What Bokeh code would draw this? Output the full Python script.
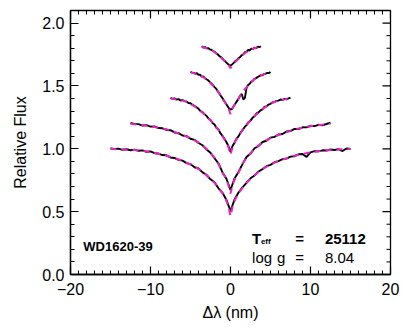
from bokeh.plotting import figure
from bokeh.models import Range1d, FixedTicker, Label
from bokeh.embed import file_html
from bokeh.resources import INLINE

# ---- Balmer line profiles, each shifted by a vertical offset ----
# observed spectra (black)
obs1_x = [-15 + 0.5 * i for i in range(61)]
obs1_y = [1.003, 0.998, 1.001, 0.992, 0.996, 0.988, 0.993, 0.984, 0.987, 0.976,
          0.979, 0.965, 0.962, 0.950, 0.948, 0.931, 0.927, 0.912, 0.906, 0.886,
          0.878, 0.853, 0.843, 0.812, 0.793, 0.757, 0.733, 0.686, 0.650, 0.592,
          0.505,
          0.596, 0.652, 0.693, 0.728, 0.765, 0.787, 0.819, 0.838, 0.862, 0.872,
          0.893, 0.902, 0.918, 0.922, 0.938, 0.941, 0.956, 0.958, 0.935, 0.972,
          0.981, 0.979, 0.988, 0.986, 0.994, 0.990, 0.997, 0.982, 1.002, 0.998]

obs2_x = [-12.5 + 0.5 * i for i in range(51)]
obs2_y = [1.205, 1.198, 1.196, 1.185, 1.188, 1.176, 1.178, 1.165, 1.163, 1.150,
          1.148, 1.130, 1.125, 1.106, 1.101, 1.080, 1.071, 1.046, 1.028, 0.995,
          0.968, 0.925, 0.884, 0.812, 0.760,
          0.672,
          0.763, 0.815, 0.878, 0.934, 0.962, 1.004, 1.021, 1.054, 1.064, 1.089,
          1.095, 1.114, 1.118, 1.137, 1.141, 1.158, 1.157, 1.171, 1.170, 1.183,
          1.180, 1.191, 1.187, 1.197, 1.208]

obs3_x = [-7.5 + 0.25 * i for i in range(61)]
obs3_y = [1.405, 1.398, 1.401, 1.392, 1.395, 1.384, 1.388, 1.379, 1.375, 1.364,
          1.362, 1.349, 1.341, 1.330, 1.318, 1.300, 1.292, 1.276, 1.262, 1.241,
          1.229, 1.205, 1.193, 1.166, 1.153, 1.122, 1.103, 1.077, 1.052, 1.020,
          0.975,
          1.022, 1.048, 1.081, 1.099, 1.128, 1.148, 1.172, 1.188, 1.212, 1.224,
          1.246, 1.258, 1.281, 1.289, 1.305, 1.313, 1.334, 1.337, 1.352, 1.358,
          1.369, 1.372, 1.381, 1.383, 1.392, 1.389, 1.397, 1.393, 1.401, 1.406]

obs4_x = [round(-5 + 0.2 * i, 2) for i in range(51)]
obs4_y = [1.612, 1.606, 1.603, 1.598, 1.601, 1.588, 1.590, 1.574, 1.576, 1.561,
          1.553, 1.545, 1.532, 1.520, 1.506, 1.491, 1.478, 1.459, 1.442, 1.420,
          1.403, 1.380, 1.362, 1.342, 1.322,
          1.312,
          1.318, 1.338, 1.358, 1.379, 1.398, 1.421, 1.436, 1.392, 1.405, 1.482,
          1.508, 1.517, 1.534, 1.541, 1.557, 1.562, 1.571, 1.578, 1.586, 1.584,
          1.595, 1.598, 1.604, 1.602, 1.611]

obs5_x = [round(-3.6 + 0.2 * i, 2) for i in range(38)]
obs5_y = [1.815, 1.806, 1.809, 1.799, 1.801, 1.791, 1.788, 1.779, 1.772, 1.760,
          1.752, 1.738, 1.729, 1.716, 1.703, 1.692, 1.679, 1.668,
          1.662,
          1.671, 1.683, 1.698, 1.706, 1.721, 1.731, 1.744, 1.752, 1.768, 1.771,
          1.786, 1.782, 1.797, 1.793, 1.805, 1.799, 1.812, 1.808, 1.816]

# model fits (magenta, dashed)
mod1_x = [-15, -14, -12, -10, -8, -6, -5, -4, -3, -2, -1.5, -1, -0.6, -0.3, 0,
          0.3, 0.6, 1, 1.5, 2, 3, 4, 5, 6, 8, 10, 12, 14, 15]
mod1_y = [1.00, 0.995, 0.99, 0.975, 0.945, 0.905, 0.875, 0.84, 0.79, 0.73, 0.69,
          0.645, 0.60, 0.55, 0.465, 0.55, 0.60, 0.645, 0.69, 0.73, 0.79, 0.84,
          0.875, 0.905, 0.945, 0.972, 0.988, 0.997, 1.00]

mod2_x = [-12.5, -12, -10, -8, -6, -5, -4, -3, -2, -1.5, -1, -0.6, -0.3, 0,
          0.3, 0.6, 1, 1.5, 2, 3, 4, 5, 6, 8, 10, 12, 12.5]
mod2_y = [1.20, 1.195, 1.18, 1.155, 1.11, 1.085, 1.05, 1.00, 0.93, 0.88, 0.81,
          0.77, 0.72, 0.645, 0.72, 0.77, 0.81, 0.88, 0.93, 1.00, 1.05, 1.085,
          1.11, 1.155, 1.18, 1.195, 1.20]

mod3_x = [-7.5, -7, -6, -5, -4, -3, -2, -1.5, -1, -0.6, -0.3, 0,
          0.3, 0.6, 1, 1.5, 2, 3, 4, 5, 6, 7, 7.5]
mod3_y = [1.40, 1.395, 1.385, 1.36, 1.315, 1.26, 1.19, 1.15, 1.10, 1.06, 1.02,
          0.955, 1.02, 1.06, 1.10, 1.15, 1.19, 1.26, 1.315, 1.36, 1.385, 1.395, 1.40]

mod4_x = [-5, -4.5, -4, -3, -2, -1.5, -1, -0.6, -0.3, 0,
          0.3, 0.6, 1, 1.5, 2, 3, 4, 4.5, 5]
mod4_y = [1.61, 1.60, 1.59, 1.555, 1.49, 1.45, 1.40, 1.36, 1.33, 1.275,
          1.33, 1.36, 1.40, 1.45, 1.49, 1.555, 1.59, 1.60, 1.61]

mod5_x = [-3.6, -3, -2.5, -2, -1.5, -1, -0.6, -0.3, 0,
          0.3, 0.6, 1, 1.5, 2, 2.5, 3, 3.7]
mod5_y = [1.81, 1.80, 1.79, 1.77, 1.745, 1.715, 1.69, 1.67, 1.64,
          1.67, 1.69, 1.715, 1.745, 1.77, 1.79, 1.80, 1.815]

x_ticks = [-20, -10, 0, 10, 20]
x_minor = [v for v in range(-20, 21) if v % 10 != 0]
y_ticks = [0.0, 0.5, 1.0, 1.5, 2.0]
y_minor = [round(0.1 * k, 1) for k in range(0, 22) if k % 5 != 0]

star_name = "WD1620-39"
teff_value = "25112"
logg_value = "8.04"

FONT = "Liberation Sans"
MAGENTA = "#F020C8"
X0, X1 = -20, 20
Y0, Y1 = 0, 2.1
W, H = 403, 329
BL, BR, BT, BB = 70, 13, 10, 55

p = figure(width=W, height=H, output_backend="svg", toolbar_location=None,
           x_range=Range1d(X0, X1), y_range=Range1d(Y0, Y1),
           min_border_left=BL, min_border_right=BR, min_border_top=BT,
           min_border_bottom=BB, x_axis_label="Δλ (nm)",
           y_axis_label="Relative Flux")
p.grid.visible = False
p.outline_line_color = "black"
p.outline_line_width = 1.3
p.background_fill_color = "white"
p.border_fill_color = "white"

observed = [(obs1_x, obs1_y), (obs2_x, obs2_y), (obs3_x, obs3_y),
            (obs4_x, obs4_y), (obs5_x, obs5_y)]
models = [(mod1_x, mod1_y), (mod2_x, mod2_y), (mod3_x, mod3_y),
          (mod4_x, mod4_y), (mod5_x, mod5_y)]

for xs, ys in observed:
    p.line(xs, ys, line_color="black", line_width=1.9)
for xs, ys in models:
    p.line(xs, ys, line_color=MAGENTA, line_width=2.0, line_dash="6 5")


def style_axis(ax, ticks, minor):
    ax.ticker = FixedTicker(ticks=ticks, minor_ticks=minor)
    ax.axis_line_color = "black"
    ax.axis_line_width = 1.3
    ax.major_tick_in = 8
    ax.major_tick_out = 0
    ax.minor_tick_in = 4
    ax.minor_tick_out = 0
    ax.major_tick_line_width = 1.2
    ax.minor_tick_line_width = 1.0
    ax.major_tick_line_color = "black"
    ax.minor_tick_line_color = "black"
    ax.major_label_text_font = FONT
    ax.major_label_text_font_size = "16px"
    ax.major_label_text_color = "black"
    ax.axis_label_text_font = FONT
    ax.axis_label_text_font_size = "16px"
    ax.axis_label_text_font_style = "normal"
    ax.axis_label_text_color = "black"


xa = p.xaxis[0]
style_axis(xa, x_ticks, x_minor)
xa.major_label_overrides = {t: (str(t).replace("-", "−")) for t in x_ticks}
xa.major_label_standoff = 8
xa.axis_label_standoff = 6

ya = p.yaxis[0]
style_axis(ya, y_ticks, y_minor)
ya.major_label_overrides = {t: f"{t:.1f}" for t in y_ticks}
ya.major_label_standoff = 6
ya.axis_label_standoff = 10

# mirrored inward ticks on the top and right edges of the frame
fw = W - BL - BR
fh = H - BT - BB
dx = (X1 - X0) / fw   # data units per pixel, x
dy = (Y1 - Y0) / fh   # data units per pixel, y
p.segment(x0=x_ticks, y0=[Y1] * len(x_ticks), x1=x_ticks,
          y1=[Y1 - 8 * dy] * len(x_ticks), line_color="black", line_width=1.2)
p.segment(x0=x_minor, y0=[Y1] * len(x_minor), x1=x_minor,
          y1=[Y1 - 4 * dy] * len(x_minor), line_color="black", line_width=1.0)
p.segment(x0=[X1] * len(y_ticks), y0=y_ticks, x1=[X1 - 8 * dx] * len(y_ticks),
          y1=y_ticks, line_color="black", line_width=1.2)
p.segment(x0=[X1] * len(y_minor), y0=y_minor, x1=[X1 - 4 * dx] * len(y_minor),
          y1=y_minor, line_color="black", line_width=1.0)


def note(x, y, text, size="15px", bold=False):
    p.add_layout(Label(x=x, y=y, text=text, text_font=FONT,
                       text_font_size=size,
                       text_font_style="bold" if bold else "normal",
                       text_baseline="middle", text_color="black"))


# annotations
note(-18.4, 0.22, star_name, "13px", True)
note(2.7, 0.285, "T", "15px", True)
note(3.8, 0.262, "eff", "8px", True)
note(8.1, 0.285, "=", "15px", True)
note(11.8, 0.285, teff_value, "15px", True)
note(2.7, 0.135, "log", "15px")
note(5.8, 0.135, "g", "15px")
note(8.1, 0.135, "=", "15px")
note(11.8, 0.135, logg_value, "15px")

open("out.html", "w").write(file_html(p, INLINE))
